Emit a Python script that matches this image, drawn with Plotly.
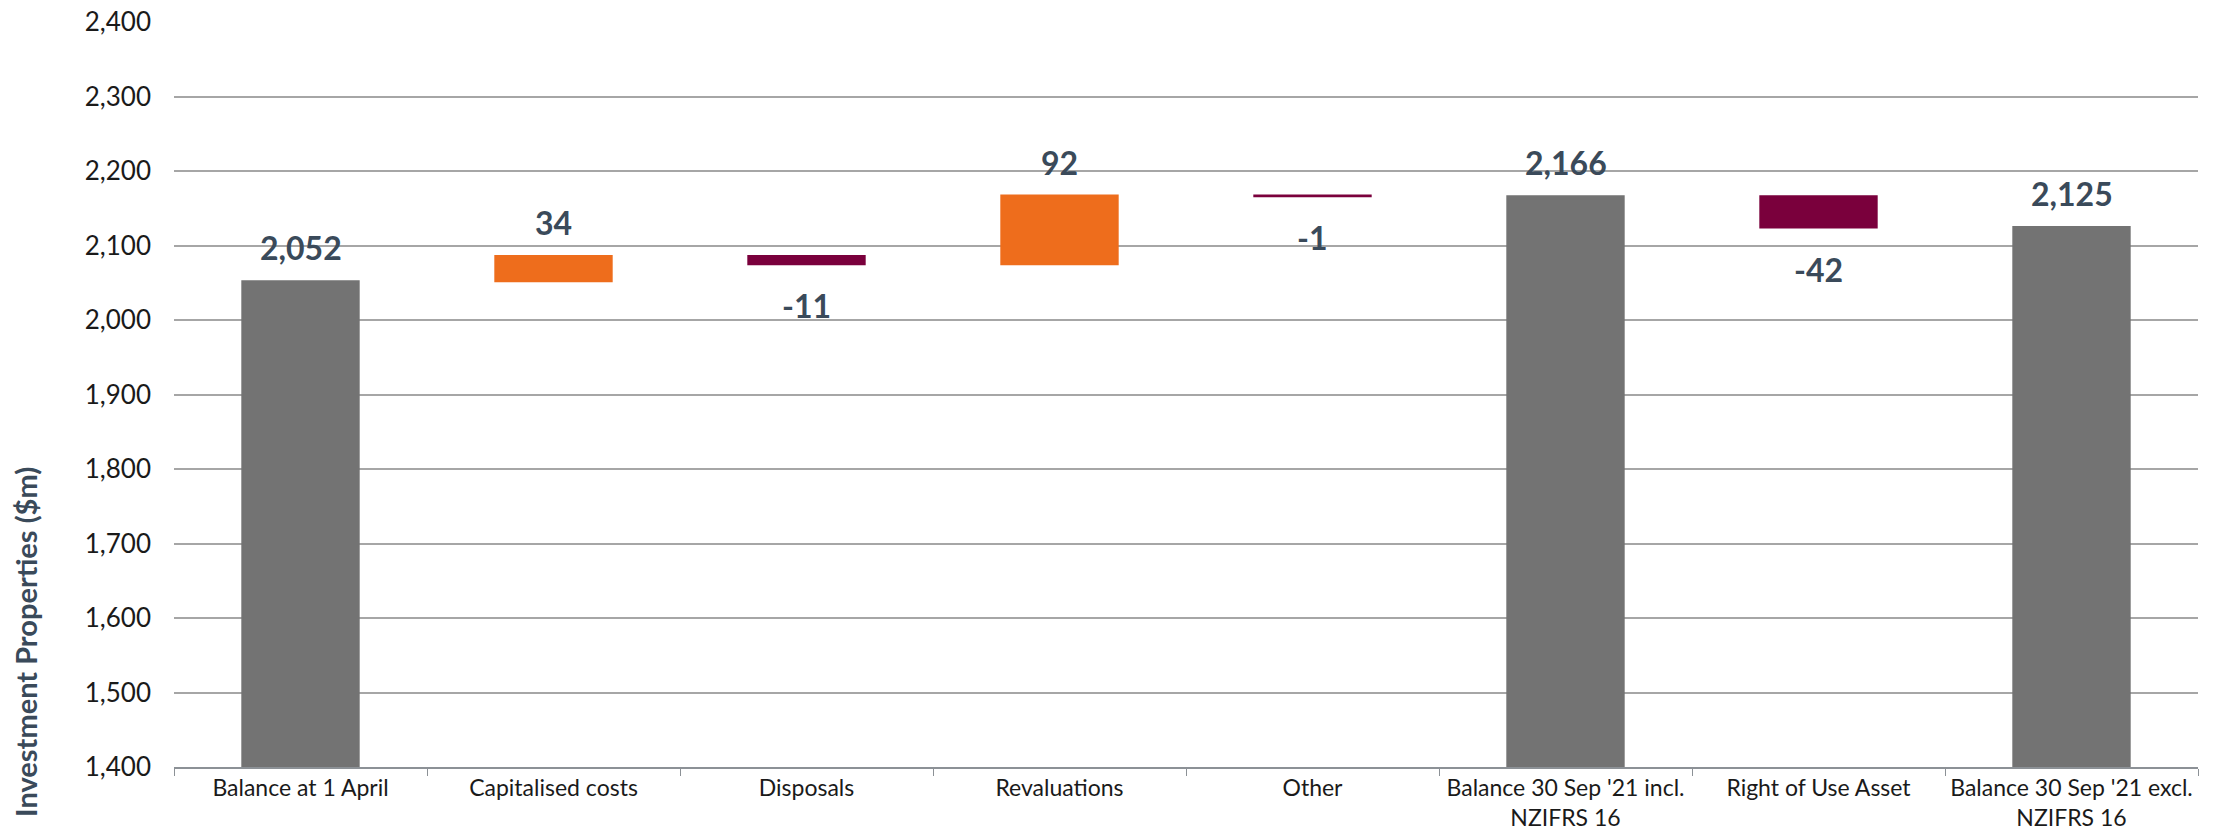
import plotly.graph_objects as go

# Investment properties bridge, $m
categories = [
    "Balance at 1 April",
    "Capitalised costs",
    "Disposals",
    "Revaluations",
    "Other",
    "Balance 30 Sep '21 incl.<br>NZIFRS 16",
    "Right of Use Asset",
    "Balance 30 Sep '21 excl.<br>NZIFRS 16",
]
values = [2052, 34, -11, 92, -1, 2166, -42, 2125]
is_total = [True, False, False, False, False, True, False, True]

y_ticks = [1400, 1500, 1600, 1700, 1800, 1900, 2000, 2100, 2200, 2300, 2400]

GREY = "#737373"
ORANGE = "#EE6D1C"
MAROON = "#7A003C"
LABEL = "#3A4A5A"
FONT = "Lato, 'Open Sans', sans-serif"

# running totals give each floating bar its base
bases, colors, tops, bottoms = [], [], [], []
running = 0
for v, tot in zip(values, is_total):
    if tot:
        bases.append(0)
        running = v
        colors.append(GREY)
    else:
        bases.append(running)
        running += v
        colors.append(ORANGE if v > 0 else MAROON)
    lo, hi = sorted([bases[-1], bases[-1] + v])
    tops.append(hi)
    bottoms.append(lo)

fig = go.Figure()
fig.add_trace(go.Bar(
    x=categories,
    y=values,
    base=bases,
    marker=dict(color=colors, line=dict(color=colors, width=2)),
    hoverinfo="skip",
))

# value labels: above rising/total bars, below falling bars
annotations = []
for cat, v, top, bot in zip(categories, values, tops, bottoms):
    up = v >= 0
    annotations.append(dict(
        x=cat, y=top if up else bot,
        xref="x", yref="y",
        text=f"{v:,.0f}",
        showarrow=False,
        yanchor="bottom" if up else "top",
        yshift=12 if up else -20,
        font=dict(family=FONT, size=32, color=LABEL, weight="bold"),
    ))

annotations.append(dict(
    text="Investment Properties ($m)",
    xref="paper", yref="paper",
    x=-0.0731, y=0.168,
    textangle=-90,
    showarrow=False,
    font=dict(family=FONT, size=29, color=LABEL, weight="bold"),
    xanchor="center", yanchor="middle",
))

fig.update_layout(
    width=2219,
    height=832,
    margin=dict(l=174, r=21, t=22, b=65),
    paper_bgcolor="white",
    plot_bgcolor="white",
    showlegend=False,
    bargap=0.54,
    font=dict(family=FONT, size=22, color="#1a1a1a"),
    xaxis=dict(
        automargin=False,
        showline=True,
        linecolor="#8C9196",
        linewidth=1.5,
        ticks="outside",
        tickson="boundaries",
        ticklen=7,
        tickcolor="#8C9196",
        tickfont=dict(size=23, color="#1a1a1a"),
        showgrid=False,
    ),
    yaxis=dict(
        automargin=False,
        range=[1400, 2400],
        tickvals=y_ticks,
        tickformat=",",
        showgrid=True,
        gridcolor="#A6A6A6",
        gridwidth=1.5,
        zeroline=False,
        tickfont=dict(size=26, color="#1a1a1a"),
        ticklabelstandoff=22,
    ),
    annotations=annotations,
)

fig.write_html("out.html")
